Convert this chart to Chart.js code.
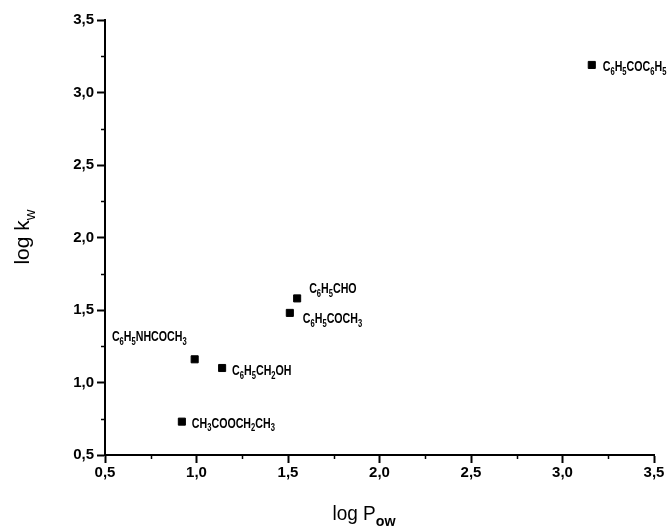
<!DOCTYPE html>
<html><head><meta charset="utf-8">
<script src="https://cdn.jsdelivr.net/npm/chart.js@4"></script>
<style>html,body{margin:0;padding:0;background:#fff}#w{width:669px;height:530px;position:relative}</style>
</head><body><div id="w"><canvas id="c"></canvas></div>
<script>
// ---- data ----
const compounds = ['C_6H_5COC_6H_5', 'C_6H_5CHO', 'C_6H_5COCH_3', 'C_6H_5NHCOCH_3', 'C_6H_5CH_2OH', 'CH_3COOCH_2CH_3'];
const logPow = [3.16, 1.55, 1.51, 0.99, 1.14, 0.92];
const logKw  = [3.19, 1.58, 1.48, 1.16, 1.10, 0.73];
const xTickValues = [0.5, 1.0, 1.5, 2.0, 2.5, 3.0, 3.5];
const yTickValues = [0.5, 1.0, 1.5, 2.0, 2.5, 3.0, 3.5];
const xTitle = ['log P', 'ow'];
const yTitle = ['log k', 'w'];

// ---- label placement (style, relative to the point) ----
const labelOffsets = [
  {dx: 11, dy: 2, align: 'left'},
  {dx: 12, dy: -9, align: 'left'},
  {dx: 13, dy: 6, align: 'left'},
  {dx: -8, dy: -22, align: 'right'},
  {dx: 10, dy: 3, align: 'left'},
  {dx: 10, dy: 2, align: 'left'}
];

const pts = logPow.map((x, i) => ({x, y: logKw[i]}));
const fmt = v => v.toFixed(1).replace('.', ',');

function parseSub(s) {
  const parts = [];
  let i = 0;
  while (i < s.length) {
    if (s[i] === '_') { parts.push({t: s[i+1], sub: true}); i += 2; }
    else { parts.push({t: s[i], sub: false}); i++; }
  }
  return parts;
}
// draws text with subscripts, horizontally compressed by sx
function drawSubText(ctx, parts, x, y, mainFont, subFont, subDy, align, sx) {
  sx = sx || 1;
  let w = 0;
  parts.forEach(p => { ctx.font = p.sub ? subFont : mainFont; w += ctx.measureText(p.t).width; });
  const W = w * sx;
  const startX = align === 'right' ? x - W : (align === 'center' ? x - W / 2 : x);
  ctx.save();
  ctx.translate(startX, y);
  ctx.scale(sx, 1);
  let cx = 0;
  parts.forEach(p => {
    ctx.font = p.sub ? subFont : mainFont;
    ctx.fillText(p.t, cx, p.sub ? subDy : 0);
    cx += ctx.measureText(p.t).width;
  });
  ctx.restore();
  return W;
}

const SANS = '"Liberation Sans", Arial, sans-serif';

const overlay = {
  id: 'overlay',
  afterDraw(chart) {
    const ctx = chart.ctx;
    const xs = chart.scales.x, ys = chart.scales.y;
    const meta = chart.getDatasetMeta(0);
    ctx.save();
    ctx.fillStyle = '#000';
    ctx.strokeStyle = '#000';
    // minor ticks
    ctx.lineWidth = 1.5;
    for (let v = 0.75; v < 3.5; v += 0.5) {
      const px = Math.round(xs.getPixelForValue(v)) + 0.5;
      ctx.beginPath(); ctx.moveTo(px, xs.top); ctx.lineTo(px, xs.top + 4); ctx.stroke();
      const py = Math.round(ys.getPixelForValue(v)) + 0.5;
      ctx.beginPath(); ctx.moveTo(ys.right, py); ctx.lineTo(ys.right - 4, py); ctx.stroke();
    }
    // point labels
    ctx.textBaseline = 'middle';
    meta.data.forEach((el, i) => {
      const o = labelOffsets[i];
      drawSubText(ctx, parseSub(compounds[i]), el.x + o.dx, el.y + o.dy,
        'bold 14px ' + SANS, 'bold 10px ' + SANS, 5, o.align, 0.76);
    });
    // axis titles
    ctx.textBaseline = 'alphabetic';
    drawSubText(ctx, [{t: xTitle[0], sub: false}, {t: xTitle[1], sub: true}], 364, 520,
      '20px ' + SANS, 'bold 15px ' + SANS, 6, 'center', 0.95);
    ctx.translate(29, 237);
    ctx.rotate(-Math.PI / 2);
    drawSubText(ctx, [{t: yTitle[0], sub: false}, {t: yTitle[1], sub: true}], 0, 0,
      '21px ' + SANS, '15px ' + SANS, 6, 'center', 1);
    ctx.restore();
  }
};

new Chart(document.getElementById('c'), {
  type: 'scatter',
  data: {
    datasets: [{
      data: pts,
      pointStyle: 'rect',
      pointRadius: 5,
      pointHoverRadius: 5,
      backgroundColor: '#000',
      borderColor: '#000',
      borderWidth: 1
    }]
  },
  options: {
    responsive: true,
    maintainAspectRatio: false,
    animation: false,
    events: [],
    layout: {padding: {top: 20, right: 15, left: 0, bottom: 0}},
    plugins: {legend: {display: false}, tooltip: {enabled: false}},
    scales: {
      x: {
        type: 'linear', min: 0.5, max: 3.5,
        afterBuildTicks: s => { s.ticks = xTickValues.map(v => ({value: v})); },
        afterFit: s => { s.height = 75; },
        border: {display: true, color: '#000', width: 2},
        grid: {drawOnChartArea: false, drawTicks: true, tickLength: 8, tickColor: '#000', tickWidth: 2},
        ticks: {color: '#000', font: {family: SANS, size: 15, weight: 'bold'}, padding: 1,
          maxRotation: 0, autoSkip: false, callback: v => fmt(v)}
      },
      y: {
        type: 'linear', min: 0.5, max: 3.5,
        afterBuildTicks: s => { s.ticks = yTickValues.map(v => ({value: v})); },
        afterFit: s => { s.width = 105; },
        border: {display: true, color: '#000', width: 2},
        grid: {drawOnChartArea: false, drawTicks: true, tickLength: 8, tickColor: '#000', tickWidth: 2},
        ticks: {color: '#000', font: {family: SANS, size: 15, weight: 'bold'}, padding: 3,
          autoSkip: false, callback: v => fmt(v)}
      }
    }
  },
  plugins: [overlay]
});
</script>
</body></html>
